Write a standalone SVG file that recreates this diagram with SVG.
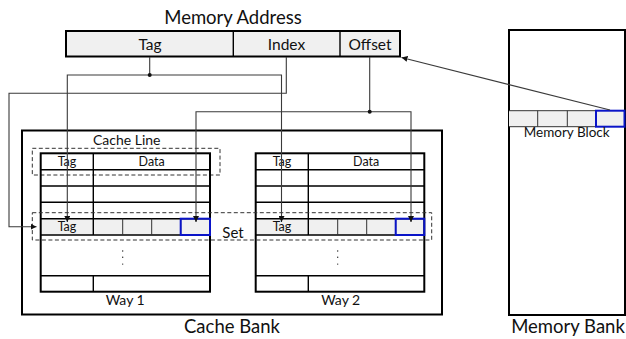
<svg xmlns="http://www.w3.org/2000/svg" width="626" height="339" viewBox="0 0 626 339">
<style>
text{font-family:Lato,"Liberation Sans",sans-serif;fill:#111;text-anchor:middle}
.t{font-size:12.5px}
.m{font-size:14px}
.b{font-size:18.5px}
.a{font-size:15.5px}
.outer{fill:none;stroke:#000;stroke-width:2}
.ln{stroke:#000;stroke-width:1.4;fill:none}
.thin{stroke:#333;stroke-width:1;fill:none}
.blue{fill:none;stroke:#0a14c8;stroke-width:2}
.dash{fill:none;stroke:#333;stroke-width:1;stroke-dasharray:4 2.5}
.con{fill:none;stroke:#3a3a3a;stroke-width:1.1}
.cell{fill:#f0f0f0}
</style>
<defs>
<marker id="ah" viewBox="0 0 6 6" refX="6" refY="3" markerWidth="6" markerHeight="6" markerUnits="userSpaceOnUse" orient="auto">
<path d="M0,0 L6,3 L0,6 z" fill="#111"/>
</marker>
</defs>

<g id="memory-address">
<text class="b" x="233" y="23.5">Memory Address</text>
<rect x="66" y="31" width="334" height="25.5" fill="#f0f0f0" stroke="#000" stroke-width="2"/>
<line x1="233.3" y1="31" x2="233.3" y2="56.5" class="ln" stroke-width="2"/>
<line x1="340" y1="31" x2="340" y2="56.5" class="ln" stroke-width="2"/>
<text class="a" x="150" y="49.5">Tag</text>
<text class="a" x="286.5" y="49.5">Index</text>
<text class="a" x="370" y="49.5">Offset</text>
</g>

<g id="cache-bank">
<rect x="22" y="130.5" width="420" height="184" class="outer"/>
<text class="b" x="232" y="332.5">Cache Bank</text>
</g>

<g id="cache-line">
<rect x="32.3" y="148.3" width="187.7" height="26.7" class="dash"/>
<text class="m" x="126.7" y="144.5">Cache Line</text>
</g>

<g id="way1" transform="translate(40.7,153.3)">
<rect x="0" y="65.4" width="169.3" height="16.3" class="cell"/>
<path class="ln" d="M0,16.4 H169.3 M0,32.7 H169.3 M0,49 H169.3 M0,65.4 H169.3 M0,81.7 H169.3 M0,122.4 H169.3 M52.6,0 V81.7 M52.6,122.4 V138.4"/>
<path class="thin" d="M82,65.4 V81.7 M111,65.4 V81.7 M140,65.4 V81.7"/>
<rect x="0" y="0" width="169.3" height="138.4" class="outer"/>
<rect x="140" y="65.4" width="29.3" height="16.3" class="blue"/>
<text class="t" x="26.3" y="12.3">Tag</text>
<text class="t" x="111" y="12.3">Data</text>
<text class="t" x="26.3" y="77.5">Tag</text>
<circle cx="82" cy="97.7" r="0.7" fill="#222"/>
<circle cx="82" cy="104" r="0.7" fill="#222"/>
<circle cx="82" cy="110.8" r="0.7" fill="#222"/>
<text class="m" x="84.5" y="152">Way 1</text>
</g>

<g id="way2" transform="translate(255.7,153.3)">
<rect x="0" y="65.4" width="168.6" height="16.3" class="cell"/>
<path class="ln" d="M0,16.4 H168.6 M0,32.7 H168.6 M0,49 H168.6 M0,65.4 H168.6 M0,81.7 H168.6 M0,122.4 H168.6 M52.6,0 V81.7 M52.6,122.4 V138.4"/>
<path class="thin" d="M82,65.4 V81.7 M111,65.4 V81.7 M140,65.4 V81.7"/>
<rect x="0" y="0" width="168.6" height="138.4" class="outer"/>
<rect x="140" y="65.4" width="28.6" height="16.3" class="blue"/>
<text class="t" x="26.3" y="12.3">Tag</text>
<text class="t" x="110.5" y="12.3">Data</text>
<text class="t" x="26.3" y="77.5">Tag</text>
<circle cx="82" cy="97.7" r="0.7" fill="#222"/>
<circle cx="82" cy="104" r="0.7" fill="#222"/>
<circle cx="82" cy="110.8" r="0.7" fill="#222"/>
<text class="m" x="85" y="152">Way 2</text>
</g>

<g id="set">
<rect x="32.3" y="212.7" width="399.4" height="27.3" class="dash"/>
<text class="m" x="233" y="237.5" style="font-size:15px">Set</text>
</g>

<g id="memory-bank">
<rect x="509" y="30" width="116" height="285" class="outer"/>
<rect x="509" y="110.7" width="116" height="16" class="cell"/>
<path class="thin" d="M509,110.7 H596 M509,126.7 H596 M537.7,110.7 V126.7 M567.3,110.7 V126.7"/>
<rect x="596" y="110.7" width="28.5" height="16" class="blue"/>
<text class="t" x="566.7" y="137" style="font-size:13.5px">Memory Block</text>
<text class="b" x="568" y="332.5">Memory Bank</text>
</g>

<g id="connectors">
<path class="con" d="M149.7,57 V75"/>
<path class="con" d="M149.7,75 H67.3 V222" marker-end="url(#ah)"/>
<path class="con" d="M149.7,75 H281.5 V222" marker-end="url(#ah)"/>
<circle cx="149.7" cy="75" r="2" fill="#111"/>
<path class="con" d="M286.3,57 V93.3 H9 V226.7 H36.5" marker-end="url(#ah)"/>
<path class="con" d="M369.7,57 V111.7"/>
<path class="con" d="M369.7,111.7 H196 V222" marker-end="url(#ah)"/>
<path class="con" d="M369.7,111.7 H411 V222" marker-end="url(#ah)"/>
<circle cx="369.7" cy="111.7" r="2" fill="#111"/>
<path class="con" d="M610,110 L401.5,57.5" marker-end="url(#ah)"/>
</g>
</svg>
